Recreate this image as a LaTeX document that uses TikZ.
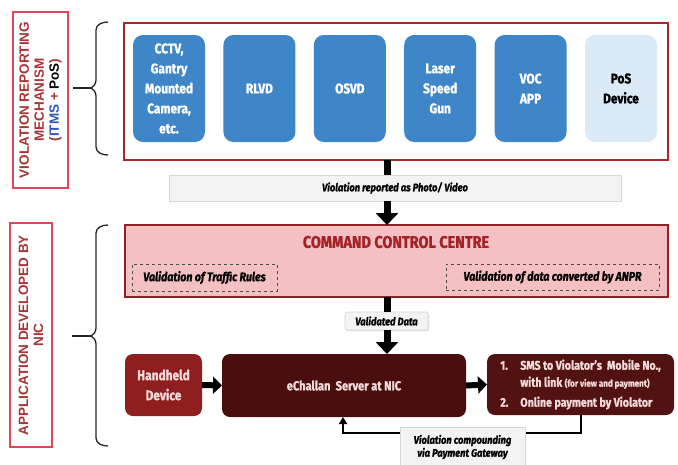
\documentclass[tikz,border=0pt]{standalone}
\usepackage{fontspec}
\setmainfont{Fira Sans}[FakeStretch=0.85, BoldFeatures={FakeBold=1.2}, BoldItalicFeatures={FakeBold=1.2}]
\newfontfamily\labfont{Liberation Sans}
\usetikzlibrary{arrows.meta,shadows}

\definecolor{vblue}{HTML}{3E86C8}
\definecolor{vpale}{HTML}{DCE9F6}
\definecolor{cred}{HTML}{A52A2A}
\definecolor{cpink}{HTML}{F5C0C3}
\definecolor{ctitle}{HTML}{A32428}
\definecolor{lborder}{HTML}{E0485A}
\definecolor{ltext}{HTML}{A83434}
\definecolor{litms}{HTML}{2F55C4}
\definecolor{bandfill}{HTML}{F3F3F3}
\definecolor{bandline}{HTML}{D6D6D6}
\definecolor{handfill}{HTML}{8F1E1E}
\definecolor{servfill}{HTML}{4B0E0E}
\definecolor{smsfill}{HTML}{521212}
\definecolor{lighttxt}{HTML}{F5DADA}

\tikzset{
  every node/.style={inner sep=0pt, outer sep=0pt},
  sidelabel/.style={draw=lborder, line width=1.6pt, fill=white, rotate=90, align=center,
    text=ltext, font=\labfont\bfseries\fontsize{13.5}{15}\selectfont},
  container/.style={draw=cred, line width=1.6pt, fill=white},
  devbox/.style={rounded corners=10pt, fill=vblue, minimum width=72pt, minimum height=107pt,
    align=center, text=white, font=\bfseries\fontsize{14}{20}\selectfont},
  posbox/.style={devbox, fill=vpale, text=black},
  band/.style={fill=bandfill, draw=bandline, line width=0.6pt,
    drop shadow={shadow xshift=1pt, shadow yshift=-1.2pt, opacity=0.25},
    font=\bfseries\itshape\fontsize{11}{13}\selectfont, align=center},
  ccc/.style={draw=cred!85!black, line width=1.8pt, fill=cpink},
  rulebox/.style={draw=black!70, dashed, line width=0.7pt,
    font=\bfseries\itshape\fontsize{12.5}{14}\selectfont},
  darkbox/.style={rounded corners=8pt, text=lighttxt, align=center},
  stem/.style={line width=7pt, black},
  bigarrow/.style={line width=7pt, black, -{Triangle[width=22pt,length=12pt]}},
  midarrow/.style={line width=6pt, black, -{Triangle[width=17pt,length=9pt]}},
  thinarrow/.style={line width=2.2pt, black, -{Triangle[width=8pt,length=7pt]}},
  bracepath/.style={line width=1.3pt, black!85},
}

\begin{document}
\begin{tikzpicture}[x=1pt, y=-1pt]
\useasboundingbox (0,0) rectangle (678,464);
\fill[white] (0,0) rectangle (678,464);

% side labels
\node[sidelabel, minimum width=176pt, minimum height=55pt] (lab1) at (40.5,100)
  {VIOLATION REPORTING\\MECHANISM\\(\textcolor{litms}{ITMS} + \textcolor{black}{PoS})};
\node[sidelabel, minimum width=224pt, minimum height=42pt] (lab2) at (31,335)
  {APPLICATION DEVELOPED BY\\NIC};

% braces
\coordinate (tip1) at (89,88);
\coordinate (lead1) at (73,88);
\draw[bracepath] (108,22) to[out=180,in=90] (96,30) -- (96,80)
  to[out=-90,in=0] (tip1) to[out=0,in=90] (96,96) -- (96,147) to[out=-90,in=180] (108,155);
\draw[bracepath] (lead1) -- (tip1);
\coordinate (tip2) at (89,336);
\coordinate (lead2) at (72,336);
\draw[bracepath] (108,225) to[out=180,in=90] (96,233) -- (96,328)
  to[out=-90,in=0] (tip2) to[out=0,in=90] (96,344) -- (96,438) to[out=-90,in=180] (108,446);
\draw[bracepath] (lead2) -- (tip2);

% reporting devices
\node[container, minimum width=544pt, minimum height=137pt] (top) at (396,91.5) {};
\node[devbox] (cctv)  at (169,88.5)   {CCTV,\\Gantry\\Mounted\\Camera,\\etc.};
\node[devbox] (rlvd)  at (259.4,88.5) {RLVD};
\node[devbox] (osvd)  at (349.8,88.5) {OSVD};
\node[devbox] (laser) at (440.2,88.5) {Laser\\Speed\\Gun};
\node[devbox] (voc)   at (530.6,88.5) {VOC\\APP};
\node[posbox] (pos)   at (621,88.5)   {PoS\\Device};

\coordinate (colx) at (387,0);

% photo / video band
\node[band, minimum width=452pt, minimum height=26pt] (band) at (395,188)
  {Violation reported as Photo/ Video};

% command control centre
\node[ccc, minimum width=543pt, minimum height=72pt] (ccc) at (396.5,261) {};
\node[text=ctitle, font=\bfseries\fontsize{17}{19}\selectfont] (ccct) at (396,242)
  {COMMAND CONTROL CENTRE};
\node[rulebox, minimum width=145pt, minimum height=27pt] (rule1) at (204.5,277.5)
  {Validation of Traffic Rules};
\node[rulebox, minimum width=213pt, minimum height=26pt] (rule2) at (552.5,277)
  {Validation of data converted by ANPR};

% validated data
\node[band, minimum width=83pt, minimum height=18pt, rounded corners=2pt] (vdata) at (386.5,321)
  {Validated Data};

% NIC application
\node[darkbox, fill=handfill, minimum width=77pt, minimum height=62pt,
  font=\bfseries\fontsize{14}{20}\selectfont] (hand) at (163.5,385) {Handheld\\Device};
\node[darkbox, fill=servfill, minimum width=244pt, minimum height=63pt,
  font=\bfseries\fontsize{13}{15}\selectfont] (server) at (344,385.5) {eChallan\ \ Server at NIC};
\node[darkbox, fill=smsfill, minimum width=187pt, minimum height=61pt, align=left,
  font=\bfseries\fontsize{12.5}{17}\selectfont] (sms) at (580.5,384.5)
  {\makebox[20pt][l]{1.}SMS to Violator's\ \ Mobile No.,\\
   \makebox[20pt][l]{}with link {\fontsize{9.5}{17}\selectfont(for view and payment)}\\[3pt]
   \makebox[20pt][l]{2.}Online payment by Violator};

% connectors
\draw[stem] (top.south -| colx) -- (band.north -| colx);
\draw[bigarrow] (band.south -| colx) -- (ccc.north -| colx);
\draw[stem] (ccc.south -| colx) -- (vdata.north -| colx);
\draw[bigarrow] (vdata.south -| colx) -- (server.north -| colx);
\draw[midarrow] (hand.east) -- (server.west);
\draw[midarrow] (server.east) -- (sms.west);

\coordinate (fbR) at (581,433);
\coordinate (fbL) at (343,433);
\draw[thinarrow] (sms.south -| fbR) -- (fbR) -- (fbL) -- (server.south -| fbL);

\node[band, minimum width=125pt, minimum height=40pt, drop shadow={opacity=0}] (gate) at (462.5,447)
  {Violation compounding\\via Payment Gateway};
\end{tikzpicture}
\end{document}
